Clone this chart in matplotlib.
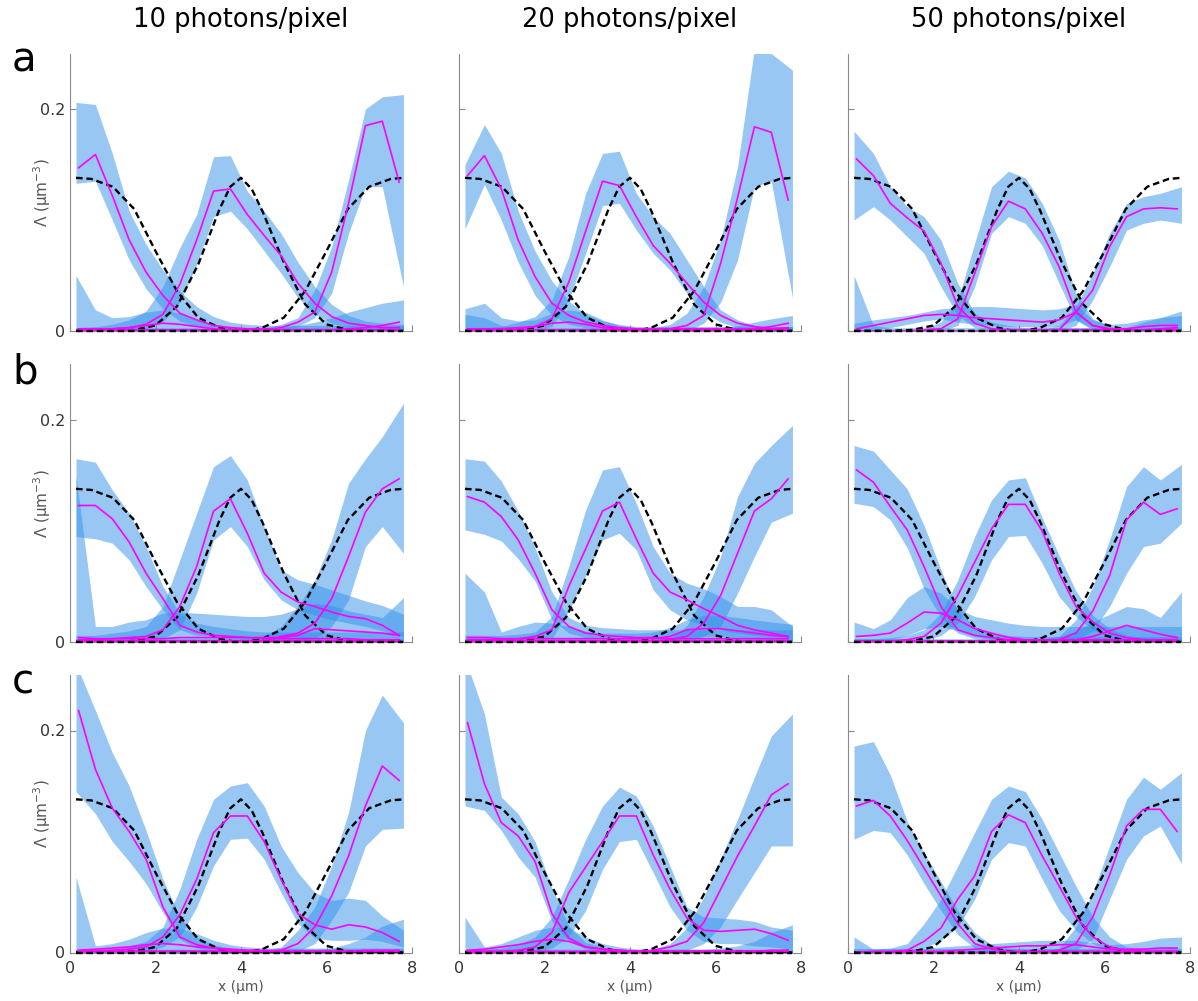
import numpy as np
import matplotlib
matplotlib.use("Agg")
import matplotlib.pyplot as plt

# sample positions (µm)
X = np.linspace(0.2, 7.7, 20)
BAND_X = X.copy()
BAND_X[0], BAND_X[-1] = 0.14, 7.8

TRUTH_X = [0.14, 0.5, 1.0, 1.5, 2.0, 2.5, 3.0, 3.5, 3.75, 4.0, 4.25, 4.5, 5.0, 5.5, 6.0, 6.5, 7.0, 7.5, 7.8]
TRUTH_LEFT = [138, 137, 130, 110, 72, 36, 12, 3, 1, 0, 0, 0, 0, 0, 0, 0, 0, 0, 0]
TRUTH_MID = [0, 0, 0, 1, 5, 22, 60, 110, 130, 138, 128, 108, 62, 24, 6, 1, 0, 0, 0]
TRUTH_RIGHT = [0, 0, 0, 0, 0, 0, 0, 0, 0, 0, 1, 3, 12, 36, 72, 110, 130, 137, 138]
TRUTH_ZERO = [0] * 19

ZERO = [0] * 20

# estimated profiles, values in 1e-3 µm^-3: (mean, lower, upper)
A1_LEFT = ([147, 159, 122, 82, 53, 32, 16, 10, 5, 3, 2, 2, 1, 1, 1, 1, 1, 1, 1, 1],
           [133, 135, 100, 64, 38, 20, 9, 4, 2, 1, 0, 0, 0, 0, 0, 0, 0, 0, 0, 0],
           [206, 204, 160, 108, 78, 55, 36, 22, 13, 8, 6, 5, 5, 5, 5, 5, 5, 5, 5, 5])
A1_MID = ([1, 1, 2, 3, 6, 15, 42, 82, 126, 128, 105, 86, 68, 43, 25, 13, 7, 5, 3, 3],
          [0, 0, 0, 1, 2, 8, 26, 60, 103, 108, 92, 72, 52, 30, 15, 7, 3, 2, 1, 1],
          [3, 4, 6, 10, 18, 40, 75, 105, 157, 158, 126, 108, 88, 62, 40, 24, 14, 9, 7, 6])
A1_RIGHT = ([0, 0, 0, 0, 0, 0, 0, 0, 0, 0, 0, 1, 3, 8, 17, 53, 115, 185, 189, 134],
            [0, 0, 0, 0, 0, 0, 0, 0, 0, 0, 0, 0, 1, 4, 12, 34, 88, 130, 130, 40],
            [2, 2, 2, 2, 2, 2, 2, 2, 2, 2, 2, 3, 6, 12, 37, 76, 136, 200, 211, 213])
A1_LOW1 = ([2, 2, 2, 3, 5, 7, 6, 4, 2, 1, 1, 1, 1, 1, 1, 1, 1, 1, 1, 1], ZERO,
           [50, 19, 12, 13, 17, 19, 16, 10, 6, 4, 3, 3, 3, 3, 3, 3, 3, 3, 3, 3])
A1_LOW2 = ([1, 1, 1, 1, 1, 1, 1, 1, 1, 1, 1, 1, 1, 1, 1, 1, 2, 3, 5, 8], ZERO,
           [3, 3, 3, 3, 3, 3, 3, 3, 3, 3, 3, 3, 3, 5, 8, 12, 17, 21, 25, 28])

A2_LEFT = ([140, 158, 128, 82, 49, 25, 14, 8, 5, 3, 2, 2, 2, 2, 2, 2, 2, 2, 2, 2],
           [92, 132, 100, 62, 32, 14, 6, 3, 1, 0, 0, 0, 0, 0, 0, 0, 0, 0, 0, 0],
           [150, 186, 160, 108, 72, 45, 27, 15, 9, 6, 4, 4, 4, 4, 4, 4, 4, 4, 4, 4])
A2_MID = ([1, 1, 1, 2, 4, 11, 44, 90, 135, 131, 103, 77, 61, 43, 26, 14, 7, 4, 2, 3],
          [0, 0, 0, 0, 1, 4, 28, 70, 113, 115, 91, 70, 55, 34, 17, 8, 3, 1, 0, 0],
          [3, 3, 4, 8, 13, 28, 67, 124, 160, 162, 124, 103, 88, 64, 40, 19, 10, 5, 4, 4])
A2_RIGHT = ([0, 0, 0, 0, 0, 0, 0, 0, 0, 0, 0, 1, 2, 5, 14, 61, 120, 184, 179, 118],
            [0, 0, 0, 0, 0, 0, 0, 0, 0, 0, 0, 0, 0, 0, 7, 26, 64, 130, 135, 30],
            [1, 1, 1, 1, 1, 1, 1, 1, 1, 1, 2, 3, 6, 16, 40, 82, 148, 255, 250, 235])
A2_LOW1 = ([2, 2, 2, 3, 4, 7, 8, 6, 3, 2, 1, 1, 1, 1, 1, 1, 1, 1, 1, 1], ZERO,
           [20, 25, 12, 9, 10, 16, 19, 17, 10, 5, 3, 3, 3, 3, 3, 3, 3, 3, 3, 3])
A2_LOW2 = ([1, 1, 1, 1, 1, 1, 1, 1, 1, 1, 1, 1, 1, 1, 1, 1, 1, 2, 4, 7], ZERO,
           [15, 12, 5, 3, 3, 3, 3, 3, 3, 3, 3, 3, 3, 3, 3, 3, 5, 8, 11, 14])

A3_LEFT = ([155, 140, 115, 102, 90, 61, 22, 7, 2, 1, 1, 1, 1, 1, 1, 1, 1, 1, 1, 1],
           [100, 112, 100, 85, 70, 40, 14, 3, 1, 0, 0, 0, 0, 0, 0, 0, 0, 0, 0, 0],
           [180, 160, 130, 112, 103, 82, 43, 16, 8, 5, 3, 3, 3, 3, 3, 3, 3, 3, 3, 3])
A3_MID = ([0, 0, 0, 0, 1, 2, 11, 52, 94, 117, 110, 88, 58, 17, 5, 1, 0, 0, 0, 0],
          [0, 0, 0, 0, 0, 0, 5, 40, 88, 103, 97, 77, 43, 10, 2, 0, 0, 0, 0, 0],
          [1, 1, 1, 1, 2, 8, 28, 79, 130, 144, 138, 115, 82, 34, 11, 4, 2, 1, 1, 1])
A3_RIGHT = ([0, 0, 0, 0, 0, 0, 0, 0, 0, 0, 0, 0, 1, 17, 37, 76, 103, 110, 111, 110],
            [0, 0, 0, 0, 0, 0, 0, 0, 0, 0, 0, 0, 0, 5, 28, 58, 91, 97, 100, 97],
            [1, 1, 1, 1, 1, 1, 1, 1, 1, 1, 1, 1, 5, 22, 52, 88, 115, 121, 124, 130])
A3_LOW1 = ([2, 5, 8, 11, 14, 15, 14, 12, 11, 10, 9, 8, 10, 17, 5, 2, 2, 4, 5, 5],
           [0, 1, 3, 6, 9, 11, 8, 6, 5, 4, 4, 3, 4, 10, 1, 0, 0, 0, 1, 1],
           [7, 10, 12, 14, 17, 20, 21, 22, 22, 21, 20, 19, 20, 24, 10, 6, 7, 10, 12, 14])
A3_LOW2 = ([0, 0, 0, 0, 0, 0, 0, 0, 0, 0, 0, 0, 0, 0, 0, 0, 0, 1, 2, 3], ZERO,
           [50, 5, 3, 3, 3, 3, 3, 3, 3, 3, 3, 3, 3, 3, 3, 3, 3, 8, 12, 18])

B1_LEFT = ([123, 123, 111, 90, 62, 39, 15, 9, 6, 5, 4, 3, 3, 3, 3, 3, 3, 2, 2, 2],
           [95, 93, 89, 74, 50, 29, 11, 6, 5, 3, 2, 1, 1, 1, 1, 1, 1, 1, 1, 1],
           [165, 162, 137, 116, 86, 50, 26, 17, 14, 12, 10, 9, 9, 9, 9, 9, 9, 9, 9, 9])
B1_MID = ([2, 2, 3, 4, 5, 11, 32, 68, 118, 129, 98, 62, 45, 36, 32, 27, 23, 21, 15, 6],
          [0, 0, 0, 0, 1, 3, 11, 44, 92, 104, 86, 56, 38, 29, 24, 20, 17, 14, 10, 5],
          [6, 6, 8, 10, 14, 32, 74, 116, 158, 168, 146, 104, 65, 56, 52, 47, 42, 37, 33, 25])
B1_RIGHT = ([1, 1, 1, 1, 1, 1, 1, 1, 1, 1, 1, 1, 5, 8, 17, 39, 77, 117, 138, 147],
            [0, 0, 0, 0, 0, 0, 0, 0, 0, 0, 0, 0, 0, 0, 3, 14, 38, 86, 104, 80],
            [2, 2, 2, 2, 2, 2, 2, 2, 2, 2, 2, 5, 14, 32, 56, 92, 143, 165, 185, 215])
B1_LOW1 = ([4, 3, 3, 3, 3, 3, 4, 4, 4, 4, 4, 4, 4, 6, 12, 11, 10, 9, 8, 6],
           [0, 0, 0, 0, 0, 0, 0, 0, 0, 0, 0, 0, 0, 1, 3, 3, 2, 2, 1, 0],
           [150, 14, 14, 18, 20, 26, 27, 26, 25, 24, 23, 23, 25, 30, 35, 33, 28, 25, 22, 40])
B1_LOW2 = ([1] * 20, ZERO, [3] * 20)

B2_LEFT = ([131, 126, 113, 92, 62, 29, 14, 8, 6, 5, 4, 4, 3, 3, 3, 3, 3, 3, 3, 3],
           [101, 97, 91, 75, 55, 20, 8, 4, 3, 2, 1, 1, 1, 1, 1, 1, 1, 1, 1, 1],
           [165, 163, 145, 118, 85, 45, 22, 15, 13, 12, 11, 11, 11, 11, 11, 11, 11, 11, 11, 11])
B2_MID = ([2, 2, 2, 3, 5, 11, 50, 84, 118, 126, 93, 62, 45, 38, 30, 23, 15, 11, 8, 5],
          [0, 0, 0, 0, 0, 3, 28, 60, 92, 98, 83, 47, 29, 20, 15, 11, 8, 6, 5, 3],
          [6, 6, 6, 7, 9, 23, 68, 119, 155, 158, 125, 86, 62, 53, 48, 41, 32, 32, 29, 14])
B2_RIGHT = ([1, 1, 1, 1, 1, 1, 1, 1, 1, 1, 1, 1, 2, 5, 17, 42, 80, 118, 129, 147],
            [0, 0, 0, 0, 0, 0, 0, 0, 0, 0, 0, 0, 0, 1, 5, 14, 44, 77, 108, 116],
            [2, 2, 2, 2, 2, 2, 2, 2, 2, 2, 2, 2, 3, 15, 41, 77, 131, 161, 177, 195])
B2_LOW1 = ([4, 4, 3, 3, 3, 3, 3, 3, 3, 3, 3, 3, 5, 11, 12, 12, 10, 8, 6, 5],
           [0, 0, 0, 0, 0, 0, 0, 0, 0, 0, 0, 0, 1, 4, 5, 5, 4, 3, 2, 1],
           [62, 45, 9, 14, 18, 17, 14, 10, 8, 8, 8, 9, 13, 20, 24, 24, 22, 20, 18, 16])
B2_LOW2 = ([1] * 20, ZERO, [3] * 20)

B3_LEFT = ([155, 144, 122, 101, 68, 32, 11, 6, 4, 2, 2, 1, 1, 1, 1, 1, 1, 1, 1, 1],
           [125, 122, 110, 85, 48, 22, 8, 3, 1, 0, 0, 0, 0, 0, 0, 0, 0, 0, 0, 0],
           [177, 172, 155, 138, 105, 65, 28, 14, 8, 6, 5, 5, 5, 5, 5, 5, 5, 5, 5, 5])
B3_MID = ([1, 1, 1, 2, 5, 17, 42, 72, 102, 124, 124, 100, 62, 32, 18, 8, 4, 2, 2, 2],
          [0, 0, 0, 0, 1, 6, 17, 41, 74, 95, 96, 71, 41, 23, 11, 4, 1, 0, 0, 0],
          [3, 3, 4, 6, 11, 26, 56, 95, 128, 146, 148, 112, 78, 46, 24, 12, 6, 4, 3, 3])
B3_RIGHT = ([0, 0, 0, 0, 0, 0, 0, 0, 0, 0, 0, 0, 2, 8, 28, 60, 110, 126, 115, 120],
            [0, 0, 0, 0, 0, 0, 0, 0, 0, 0, 0, 0, 0, 2, 10, 32, 62, 86, 89, 107],
            [2, 2, 2, 2, 2, 2, 2, 2, 2, 2, 2, 2, 5, 20, 50, 92, 140, 158, 146, 160])
B3_LOW1 = ([5, 6, 8, 17, 27, 26, 20, 12, 8, 4, 2, 2, 2, 2, 2, 2, 2, 2, 2, 2],
           [0, 1, 2, 6, 12, 14, 10, 5, 2, 1, 0, 0, 0, 0, 0, 0, 0, 0, 0, 0],
           [18, 12, 20, 40, 50, 44, 30, 23, 20, 17, 15, 14, 14, 14, 14, 14, 14, 14, 14, 14])
B3_LOW2 = ([1, 1, 1, 1, 1, 1, 1, 1, 1, 1, 1, 1, 1, 2, 5, 10, 15, 11, 7, 4], ZERO,
           [3, 3, 3, 3, 3, 3, 3, 3, 3, 3, 3, 3, 5, 10, 18, 25, 32, 30, 22, 45])

C1_LEFT = ([218, 165, 130, 109, 84, 41, 14, 7, 4, 2, 1, 1, 1, 1, 1, 1, 1, 1, 1, 1],
           [145, 125, 100, 82, 62, 36, 12, 4, 1, 0, 0, 0, 0, 0, 0, 0, 0, 0, 0, 0],
           [260, 218, 180, 150, 110, 66, 32, 14, 7, 4, 3, 3, 3, 3, 3, 3, 3, 3, 3, 3])
C1_MID = ([1, 1, 2, 3, 5, 14, 34, 66, 108, 123, 123, 100, 66, 35, 25, 21, 25, 23, 18, 10],
          [0, 0, 0, 0, 1, 5, 14, 41, 78, 102, 103, 84, 54, 26, 13, 11, 11, 12, 10, 5],
          [3, 3, 4, 6, 10, 23, 57, 102, 138, 150, 153, 132, 96, 72, 54, 47, 49, 47, 33, 20])
C1_RIGHT = ([1, 1, 1, 1, 1, 1, 1, 1, 1, 1, 1, 1, 2, 8, 23, 51, 87, 132, 168, 155],
            [0, 0, 0, 0, 0, 0, 0, 0, 0, 0, 0, 0, 0, 1, 8, 29, 54, 96, 111, 112],
            [2, 2, 2, 2, 2, 2, 2, 2, 2, 2, 2, 2, 5, 20, 41, 78, 126, 200, 232, 207])
C1_LOW1 = ([2, 3, 4, 5, 7, 8, 7, 5, 4, 3, 2, 2, 1, 1, 1, 1, 1, 1, 1, 1], ZERO,
           [68, 6, 8, 12, 18, 22, 22, 17, 11, 7, 5, 4, 4, 4, 4, 4, 4, 4, 4, 4])
C1_LOW2 = ([1, 1, 1, 1, 1, 1, 1, 1, 1, 1, 1, 1, 1, 1, 1, 1, 1, 2, 2, 2], ZERO,
           [3, 3, 3, 3, 3, 3, 3, 3, 3, 3, 3, 3, 3, 3, 3, 4, 8, 14, 24, 30])

C2_LEFT = ([207, 152, 117, 105, 82, 35, 13, 5, 3, 2, 1, 1, 1, 1, 1, 1, 1, 1, 1, 1],
           [132, 128, 110, 86, 68, 28, 10, 3, 1, 0, 0, 0, 0, 0, 0, 0, 0, 0, 0, 0],
           [265, 215, 140, 125, 100, 58, 24, 9, 5, 3, 2, 2, 2, 2, 2, 2, 2, 2, 2, 2])
C2_MID = ([1, 1, 1, 2, 5, 18, 54, 77, 100, 123, 123, 88, 57, 31, 20, 19, 20, 21, 17, 11],
          [0, 0, 0, 0, 1, 4, 14, 38, 75, 100, 102, 72, 41, 20, 10, 8, 8, 6, 5, 3],
          [3, 3, 4, 7, 14, 32, 66, 102, 132, 149, 141, 114, 78, 41, 32, 31, 30, 28, 23, 20])
C2_RIGHT = ([0, 0, 0, 0, 0, 0, 0, 0, 0, 0, 0, 2, 5, 10, 27, 57, 87, 114, 142, 152],
            [0, 0, 0, 0, 0, 0, 0, 0, 0, 0, 0, 0, 0, 2, 8, 23, 48, 72, 96, 96],
            [2, 2, 2, 2, 2, 2, 2, 2, 2, 2, 2, 3, 8, 22, 50, 85, 120, 158, 195, 215])
C2_LOW1 = ([2, 3, 5, 7, 10, 12, 10, 5, 3, 2, 1, 1, 1, 1, 1, 1, 1, 1, 1, 2], ZERO,
           [32, 5, 8, 14, 20, 23, 22, 14, 8, 5, 3, 3, 3, 3, 3, 3, 3, 3, 3, 3])
C2_LOW2 = ([1, 1, 1, 1, 1, 1, 1, 1, 1, 1, 1, 1, 1, 1, 1, 1, 1, 1, 2, 2], ZERO,
           [3, 3, 3, 3, 3, 3, 3, 3, 3, 3, 3, 3, 3, 3, 3, 4, 6, 10, 18, 25])

C3_LEFT = ([132, 137, 123, 101, 76, 51, 26, 8, 3, 1, 1, 1, 1, 1, 1, 1, 1, 1, 1, 1],
           [102, 110, 108, 88, 62, 38, 16, 4, 1, 0, 0, 0, 0, 0, 0, 0, 0, 0, 0, 0],
           [186, 190, 160, 118, 90, 64, 38, 18, 7, 4, 3, 3, 3, 3, 3, 3, 3, 3, 3, 3])
C3_MID = ([0, 1, 1, 2, 10, 22, 48, 69, 109, 124, 117, 87, 60, 32, 14, 5, 2, 1, 1, 1],
          [0, 0, 0, 0, 4, 11, 23, 48, 84, 99, 96, 66, 38, 20, 8, 2, 0, 0, 0, 0],
          [2, 3, 4, 8, 26, 48, 78, 108, 138, 150, 145, 120, 90, 60, 32, 14, 5, 3, 2, 2])
C3_RIGHT = ([0, 0, 0, 0, 0, 0, 0, 0, 0, 0, 0, 0, 2, 8, 32, 70, 114, 129, 129, 109],
            [0, 0, 0, 0, 0, 0, 0, 0, 0, 0, 0, 0, 0, 2, 12, 48, 84, 105, 114, 80],
            [2, 2, 2, 2, 2, 2, 2, 2, 2, 2, 2, 2, 4, 23, 54, 96, 138, 158, 147, 162])
C3_LOW1 = ([0, 0, 0, 1, 1, 1, 2, 3, 4, 5, 6, 6, 7, 7, 5, 3, 3, 3, 4, 4], ZERO,
           [14, 3, 3, 3, 4, 5, 6, 7, 8, 9, 10, 11, 11, 11, 9, 7, 8, 10, 13, 14])
C3_LOW2 = ([0] * 20, ZERO, [3] * 20)

PANELS = [
    [[A1_LEFT, A1_MID, A1_RIGHT, A1_LOW1, A1_LOW2],
     [A2_LEFT, A2_MID, A2_RIGHT, A2_LOW1, A2_LOW2],
     [A3_LEFT, A3_MID, A3_RIGHT, A3_LOW1, A3_LOW2]],
    [[B1_LEFT, B1_MID, B1_RIGHT, B1_LOW1, B1_LOW2],
     [B2_LEFT, B2_MID, B2_RIGHT, B2_LOW1, B2_LOW2],
     [B3_LEFT, B3_MID, B3_RIGHT, B3_LOW1, B3_LOW2]],
    [[C1_LEFT, C1_MID, C1_RIGHT, C1_LOW1, C1_LOW2],
     [C2_LEFT, C2_MID, C2_RIGHT, C2_LOW1, C2_LOW2],
     [C3_LEFT, C3_MID, C3_RIGHT, C3_LOW1, C3_LOW2]],
]
COL_TITLES = ["10 photons/pixel", "20 photons/pixel", "50 photons/pixel"]
ROW_LETTERS = ["a", "b", "c"]

BAND = "#3391eb"
MAGENTA = "#ff00ff"
AXIS_GREY = "#8a8a8a"

W, H = 1198, 1001
fig = plt.figure(figsize=(W / 100, H / 100), dpi=100)

col_left = [70, 459, 848]
row_bottom = [331, 642, 952.5]
ax_w, ax_h = 342, 277.5

for r in range(3):
    for c in range(3):
        ax = fig.add_axes([col_left[c] / W, 1 - row_bottom[r] / H, ax_w / W, ax_h / H])
        for mean, lo, hi in PANELS[r][c]:
            ax.fill_between(BAND_X, np.array(lo) / 1000, np.array(hi) / 1000,
                            color=BAND, alpha=0.5, lw=0)
        for truth in (TRUTH_LEFT, TRUTH_MID, TRUTH_RIGHT):
            ax.plot(TRUTH_X, np.array(truth) / 1000, color="black", lw=1.7,
                    ls=(0, (2.8, 1.6)))
        ax.plot(TRUTH_X, TRUTH_ZERO, color="black", lw=1.7, ls=(0, (2.8, 1.6)),
                clip_on=False, zorder=5)
        for mean, lo, hi in PANELS[r][c]:
            ax.plot(X, np.array(mean) / 1000, color=MAGENTA, lw=1.2)

        ax.set_xlim(0, 8)
        ax.set_ylim(0, 0.25)
        for side in ("top", "right"):
            ax.spines[side].set_visible(False)
        for side in ("left", "bottom"):
            ax.spines[side].set_color(AXIS_GREY)
            ax.spines[side].set_linewidth(0.8)
        ax.set_xticks([0, 2, 4, 6, 8])
        ax.set_yticks([0, 0.2])
        ax.tick_params(direction="in", length=4, width=0.8, color=AXIS_GREY,
                       labelcolor="#333333", labelsize=11.5)
        ax.tick_params(axis="x", pad=6)
        if r == 2:
            ax.set_xticklabels(["0", "2", "4", "6", "8"])
            ax.set_xlabel("x (μm)", fontsize=10, color="#555555")
            ax.xaxis.set_label_coords(0.5, -0.1)
        else:
            ax.set_xticklabels([])
        if c == 0:
            ax.set_yticklabels(["0", "0.2"])
            ax.set_ylabel("Λ (μm$^{-3}$)", fontsize=11, color="#555555")
            ax.yaxis.set_label_coords(-0.05, 0.5)
        else:
            ax.set_yticklabels([])

for c, title in enumerate(COL_TITLES):
    fig.text((col_left[c] + ax_w / 2) / W, 1 - 27 / H, title, ha="center",
             va="baseline", fontsize=18.5)
for r, letter in enumerate(ROW_LETTERS):
    fig.text(12 / W, 1 - (72 + 311 * r) / H, letter, ha="left", va="baseline",
             fontsize=29)

fig.savefig("out.png", dpi=100)
